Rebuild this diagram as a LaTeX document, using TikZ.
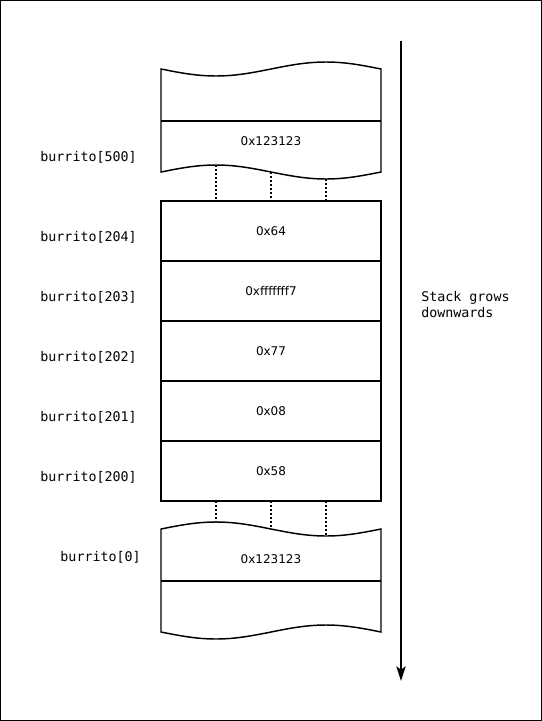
\documentclass[tikz,border=0pt]{standalone}
\usepackage{fontspec}
\setmainfont{DejaVu Sans}
\setmonofont{DejaVu Sans Mono}
\usetikzlibrary{arrows.meta, positioning}
\tikzset{
  cell/.style={
    rectangle,
    draw=black,
    line width=1.1pt,
    outer sep=0pt,
    inner sep=0pt,
    minimum width=165pt,
    minimum height=45pt,
    font=\fontsize{9}{11}\selectfont
  },
  value/.style={
    inner sep=0pt,
    font=\fontsize{9}{11}\selectfont
  },
  addr/.style={
    inner sep=0pt,
    align=left,
    font=\ttfamily\fontsize{10}{12}\selectfont
  },
  wave/.style={
    draw=black,
    line width=1.1pt
  },
  gap/.style={
    dash pattern=on 1.5pt off 1.5pt,
    line width=1.1pt
  },
  arrow/.style={
    -{Stealth[length=11pt, width=7pt, inset=2.5pt]},
    line width=1.1pt
  }
}

\begin{document}
\begin{tikzpicture}[x=0.75pt, y=-0.75pt, node distance=0pt and 18pt]
    \useasboundingbox (0,0) rectangle (542,721);
    \draw[line width=1pt] (0.7,0.7) rectangle (541.3,720.3);

    \draw[wave] (161,69) sin (216,76) cos (271,69) sin (326,62) cos (381,69)
        -- (381,172) sin (326,179) cos (271,172) sin (216,165) cos (161,172) -- cycle;
    \draw[wave] (161,121) -- (381,121);
    \node[value] (top) at (271,141) {0x123123};

    \node[cell] (c204) at (271,231) {0x64};
    \node[cell, below=of c204] (c203) {0xfffffff7};
    \node[cell, below=of c203] (c202) {0x77};
    \node[cell, below=of c202] (c201) {0x08};
    \node[cell, below=of c201] (c200) {0x58};

    \draw[wave] (161,529) sin (216,522) cos (271,529) sin (326,536) cos (381,529)
        -- (381,632) sin (326,625) cos (271,632) sin (216,639) cos (161,632) -- cycle;
    \draw[wave] (161,581) -- (381,581);
    \node[value] (bottom) at (271,559) {0x123123};

    \coordinate (ta) at (216,165);
    \coordinate (tb) at (271,172);
    \coordinate (tc) at (326,179);
    \coordinate (ba) at (216,522);
    \coordinate (bb) at (271,529);
    \coordinate (bc) at (326,536);
    \draw[gap] (ta) -- (ta |- c204.north);
    \draw[gap] (tb) -- (tb |- c204.north);
    \draw[gap] (tc) -- (tc |- c204.north);
    \draw[gap] (c200.south -| ba) -- (ba);
    \draw[gap] (c200.south -| bb) -- (bb);
    \draw[gap] (c200.south -| bc) -- (bc);

    \node[addr, anchor=east] (l500) at (137,157) {burrito[500]};
    \node[addr, left=of c204, yshift=-4.5pt] (l204) {burrito[204]};
    \node[addr, left=of c203, yshift=-4.5pt] (l203) {burrito[203]};
    \node[addr, left=of c202, yshift=-4.5pt] (l202) {burrito[202]};
    \node[addr, left=of c201, yshift=-4.5pt] (l201) {burrito[201]};
    \node[addr, left=of c200, yshift=-4.5pt] (l200) {burrito[200]};
    \node[addr, anchor=east] (l0) at (141,557) {burrito[0]};

    \coordinate (growtop) at (401,41);
    \coordinate (growend) at (401,681);
    \draw[arrow] (growtop) -- (growend);
    \node[addr, anchor=west] (grows) at (421,305) {Stack grows\\downwards};
\end{tikzpicture}
\end{document}
